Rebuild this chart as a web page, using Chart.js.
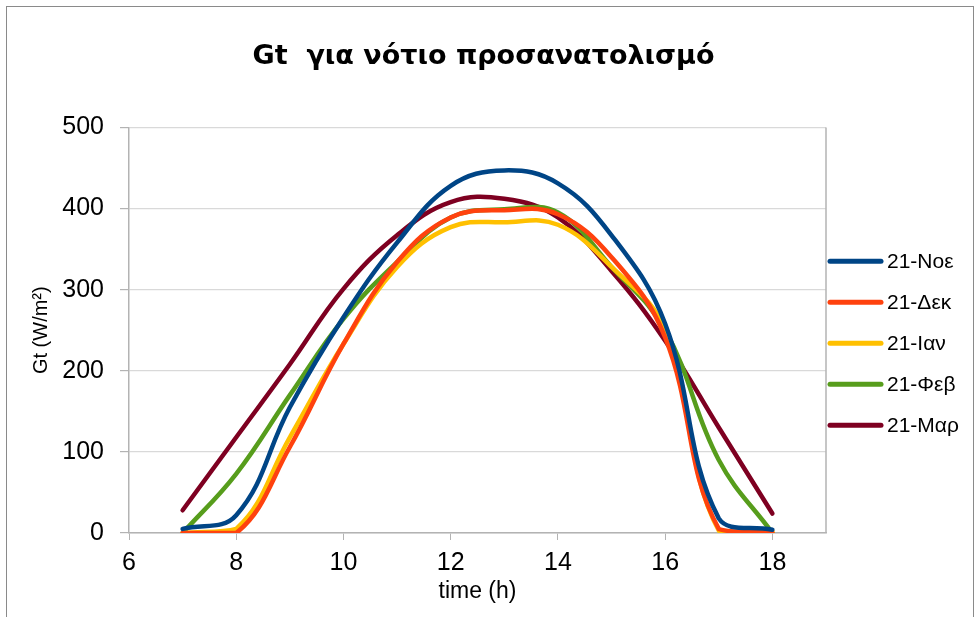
<!DOCTYPE html>
<html><head><meta charset="utf-8">
<script src="https://cdn.jsdelivr.net/npm/chart.js@4/dist/chart.umd.min.js"></script>
<style>
html,body{margin:0;padding:0;background:#fff;}
#wrap{position:relative;width:979px;height:617px;overflow:hidden;}
#frame{position:absolute;left:6px;top:6px;width:968px;height:640px;border:1.5px solid #8a8a8a;box-sizing:border-box;pointer-events:none;}
canvas{position:absolute;left:0;top:0;}
</style></head><body>
<div id="wrap"><canvas id="c" width="979" height="617"></canvas><div id="frame"></div></div>
<script>
// ---- data ----
const hours = [7, 8, 9, 10, 11, 12, 13, 14, 15, 16, 17, 18];
const nov = [5, 22, 155, 266, 358, 428, 447, 431, 367, 258, 18, 4];
const dec = [0, 0, 106, 233, 334, 389, 398, 393, 340, 241, 5, 0];
const jan = [0, 5, 118, 233, 328, 377, 383, 380, 328, 250, 3, 2];
const feb = [0, 73, 170, 264, 334, 389, 399, 395, 328, 250, 90, 0];
const mar = [28, 118, 208, 301, 367, 408, 412, 389, 323, 237, 130, 24];
const seriesLabels = ['21-Νοε', '21-Δεκ', '21-Ιαν', '21-Φεβ', '21-Μαρ'];
const seriesValues = [nov, dec, jan, feb, mar];
const colors = ['#004586', '#ff420e', '#ffc000', '#579d1c', '#7e0021'];
const xTicks = [6, 8, 10, 12, 14, 16, 18];

const FONT = "'Liberation Sans', Arial, sans-serif";
const TITLE_FONT = "'DejaVu Sans', 'Liberation Sans', sans-serif";

const plotBorder = {
  id: 'plotBorder',
  beforeDatasetsDraw(chart) {
    const {ctx, chartArea: a} = chart;
    ctx.save();
    ctx.strokeStyle = '#b3b3b3';
    ctx.lineWidth = 1.5;
    ctx.beginPath();
    ctx.moveTo(a.right, a.top);
    ctx.lineTo(a.right, a.bottom);
    ctx.stroke();
    ctx.restore();
  }
};

const sideLegend = {
  id: 'sideLegend',
  afterDraw(chart) {
    const {ctx, chartArea: a} = chart;
    const x0 = a.right + 2, lineLen = 53, gap = 41;
    const n = chart.data.datasets.length;
    const cy = (a.top + a.bottom) / 2 + 13;
    ctx.save();
    ctx.font = '21px ' + FONT;
    ctx.textBaseline = 'middle';
    ctx.textAlign = 'left';
    chart.data.datasets.forEach((ds, i) => {
      const y = cy + (i - (n - 1) / 2) * gap;
      ctx.strokeStyle = ds.borderColor;
      ctx.lineWidth = 5;
      ctx.lineCap = 'round';
      ctx.beginPath();
      ctx.moveTo(x0 + 2, y);
      ctx.lineTo(x0 + lineLen, y);
      ctx.stroke();
      ctx.fillStyle = '#000';
      ctx.fillText(ds.label, x0 + lineLen + 6, y + 1);
    });
    ctx.restore();
  }
};

const datasets = seriesValues.map((vals, i) => ({
  label: seriesLabels[i],
  data: hours.map((h, j) => ({x: h, y: vals[j]})),
  borderColor: colors[i],
  backgroundColor: colors[i],
  borderWidth: 4.5,
  borderCapStyle: 'round',
  pointRadius: 0,
  tension: 0.4,
  fill: false
}));

new Chart(document.getElementById('c'), {
  type: 'line',
  data: {datasets},
  options: {
    responsive: false,
    animation: false,
    devicePixelRatio: 1,
    layout: {padding: {left: 0, right: 12, top: 0, bottom: 0}},
    plugins: {
      legend: {display: false},
      tooltip: {enabled: false},
      title: {
        display: true,
        text: 'Gt  για νότιο προσανατολισμό',
        font: {family: TITLE_FONT, size: 27, weight: 'bold'},
        color: '#000',
        padding: {top: 41, bottom: 54}
      }
    },
    scales: {
      x: {
        type: 'linear', min: 6, max: 19,
        afterBuildTicks: s => { s.ticks = xTicks.map(v => ({value: v})); },
        ticks: {font: {family: FONT, size: 25}, color: '#000', padding: 8, maxRotation: 0, autoSkip: false},
        grid: {drawOnChartArea: false, tickLength: 7, color: '#b3b3b3', tickColor: '#b3b3b3'},
        border: {color: '#b3b3b3', width: 1.5},
        title: {display: true, text: 'time (h)', font: {family: FONT, size: 23}, color: '#000', padding: {top: 0, bottom: 12}},
        afterFit: s => { s.height = 84; }
      },
      y: {
        min: 0, max: 500,
        ticks: {stepSize: 100, font: {family: FONT, size: 25}, color: '#000', padding: 16},
        grid: {color: '#d9d9d9', lineWidth: 1.2, tickLength: 9, tickColor: '#b3b3b3'},
        border: {color: '#b3b3b3', width: 1.5},
        title: {display: true, text: 'Gt (W/m²)', font: {family: FONT, size: 20}, color: '#000', padding: {top: 29, bottom: 0}},
        afterFit: s => { s.width = 129; }
      },
      yLegendSpace: {
        position: 'right', display: true,
        grid: {display: false}, ticks: {display: false}, border: {display: false},
        afterFit: s => { s.width = 141; }
      }
    }
  },
  plugins: [plotBorder, sideLegend]
});
</script>
</body></html>
